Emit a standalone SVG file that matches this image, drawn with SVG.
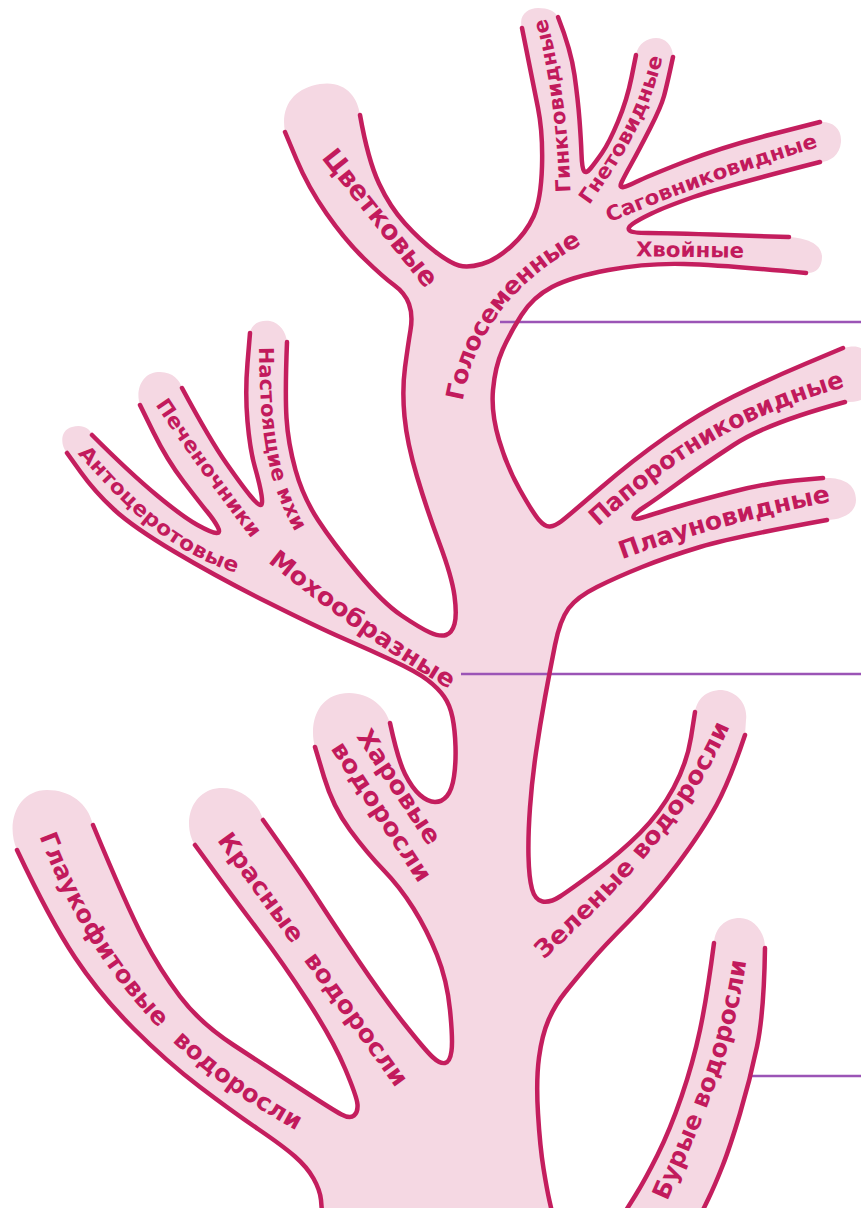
<svg xmlns="http://www.w3.org/2000/svg" width="861" height="1208" viewBox="0 0 861 1208">
<style>
.fill{fill:#f5d8e3;stroke:none}
.ol{fill:none;stroke:#c41e5e;stroke-width:4.5;stroke-linecap:round;stroke-linejoin:round}
.con{stroke:#9b54b6;stroke-width:2.5;fill:none}
.lbl{font-family:"DejaVu Sans","Open Sans",sans-serif;font-weight:700;fill:#c21a5c;text-anchor:middle;dominant-baseline:middle}
.big{font-size:24.5px}
.sm{font-size:20.5px}
.wide{word-spacing:10px}
</style>
<defs>
<path id="p1" d="M318,141 L441,296"/>
<path id="p2" d="M453,418 C462,340 500,275 595,230"/>
<path id="p3" d="M565,210 C564,140 555,60 535,3"/>
<path id="p4" d="M575,215 C610,165 645,120 660,40"/>
<path id="p5" d="M593,223 Q712,172 831,137"/>
<path id="p6" d="M620,250 L760,252"/>
<path id="p7" d="M582,532 C660,460 730,410 858,376"/>
<path id="p8" d="M605,558 Q720,515 845,492"/>
<path id="p9" d="M265,330 C265,425 270,487 310,543"/>
<path id="p10" d="M151,387 Q198,460 267,549"/>
<path id="p11" d="M70,437 C120,490 165,550 255,572"/>
<path id="p12" d="M258,545 Q360,630 468,692"/>
<path id="p13a" d="M353,719 L443,856"/>
<path id="p13b" d="M327,731 L434,894"/>
<path id="p14" d="M213,823 L411,1097"/>
<path id="p15" d="M40,818 C78,925 150,1050 315,1132"/>
<path id="p16" d="M530,963 C610,890 690,810 728,712"/>
<path id="p17" d="M655,1212 C690,1130 730,1050 741,945"/>
</defs>

<g id="tree-fill">
<path class="fill" d="M93,825 Q127,907 143.5,938.5 Q160,970 180,996.5 Q200,1023 233.5,1045 Q267,1067 300,1088.5 Q333,1110 341.5,1114.5 Q350,1119 354,1115.5 Q358,1112 357.5,1104.5 Q357,1097 345,1068.5 Q333,1040 308,1001.5 Q283,963 258,930 Q233,897 214,871 L195,845
C185,830 186,800 210,790 C235,782 258,800 263,820
Q300,872 316.5,897.5 Q333,923 358,960 Q383,997 404,1023.5 Q425,1050 432.5,1057 Q440,1064 445,1063 Q450,1062 451.5,1051 Q453,1040 450,1010 Q447,980 437,955 Q427,930 413.5,908.5 Q400,887 383.5,870 Q367,853 350,830 Q333,807 324,777 L315,747
C310,730 313,700 340,694 C365,689 385,705 390,723
Q398,760 405,774 Q412,788 420,795 Q428,802 435,802 Q442,802 447,796 Q452,790 454,776.5 Q456,763 455.5,746.5 Q455,730 452.5,717.5 Q450,705 444,696.5 Q438,688 427.5,680 Q417,672 393.5,661 Q370,650 343.5,638.5 Q317,627 267,602 Q217,577 175,552 Q133,527 114,509.5 Q95,492 81,472.5 L67,453
C60,445 60,430 72,427 C82,424 90,428 92,435
Q130,473 156.5,495 Q183,517 197.5,525 Q212,533 216.5,533 Q221,533 217.5,526.5 Q214,520 207,511.5 Q200,503 183.5,481.5 Q167,460 153.5,432.5 L140,405
C135,390 142,373 158,372 C172,371 180,380 182,388
Q210,440 226.5,463.5 Q243,487 250.5,496 Q258,505 260.5,505 Q263,505 261.5,495 Q260,485 255,467.5 Q250,450 247.5,421.5 Q245,393 247.5,363 L250,333
C252,322 262,320 270,321 C280,323 286,332 287,342
Q285,393 286.5,418 Q288,443 295.5,470 Q303,497 318,520 Q333,543 358,573 Q383,603 401.5,615.5 Q420,628 430,632.5 Q440,637 446,635 Q452,633 454.5,624 Q457,615 454.5,596 Q452,577 439.5,543.5 Q427,510 417,476.5 Q407,443 404.5,416.5 Q402,390 405,367.5 Q408,345 410.5,330 Q413,315 409,304 Q405,293 394,285 Q383,277 364,258.5 Q345,240 326.5,213.5 Q308,187 296.5,159.5 L285,132
C280,105 295,88 320,84 C345,80 358,97 360,115
Q368,160 379,183.5 Q390,207 405,223.5 Q420,240 435,251.5 Q450,263 459,265.5 Q468,268 482,264 Q496,260 511,246.5 Q526,233 533.5,216.5 Q541,200 542,166.5 Q543,133 538,108 Q533,83 527.5,55.5 L522,28
C518,15 528,8 538,8 C548,8 555,11 558,17
Q571,50 574.5,75 Q578,100 579.5,120 Q581,140 581.5,154 Q582,168 584,171 Q586,174 590.5,168.5 Q595,163 602,153 Q609,143 618,121.5 Q627,100 631.5,77.5 L636,55
C638,43 648,38 656,38 C665,38 673,45 673,57
Q667,85 664,96 Q661,107 650,128.5 Q639,150 631.5,163.5 Q624,177 621.5,182.5 Q619,188 623.5,187 Q628,186 637,181.5 Q646,177 684,162 Q722,147 771,134.5 L820,122
C832,121 842,128 841,142 C840,155 830,162 820,162
Q722,187 693.5,197 Q665,207 651.5,213.5 Q638,220 632.5,224 Q627,228 629.5,230.5 Q632,233 648.5,233 Q665,233 727,235 L789,237
C805,238 822,243 822,257 C822,268 815,274 806,273
Q722,265 684,264 Q646,263 608.5,270 Q571,277 552,287 Q533,297 521.5,315 Q510,333 502.5,350 Q495,367 493,390 Q491,413 499,440 Q507,467 520,490 Q533,513 539,520 Q545,527 550,526.5 Q555,526 561,521.5 Q567,517 600,488.5 Q633,460 666.5,436.5 Q700,413 733.5,396.5 Q767,380 805,364 L843,348
C855,345 866,345 866,360 L866,395 C864,401 855,402 845,402
Q767,423 733.5,445 Q700,467 677.5,483.5 Q655,500 643.5,507.5 Q632,515 633.5,517.5 Q635,520 642.5,517.5 Q650,515 675,507.5 Q700,500 733.5,491.5 Q767,483 795,480.5 L823,478
C840,477 856,482 856,500 C856,514 840,520 827,520
Q733,537 700,547 Q667,557 642,567 Q617,577 597,587 Q577,597 568.5,608.5 Q560,620 555,645 Q550,670 545,697.5 Q540,725 536,752.5 Q532,780 530,807.5 Q528,835 528.5,856.5 Q529,878 532,889 Q535,900 542.5,901.5 Q550,903 560,896.5 Q570,890 595,871.5 Q620,853 640,833 Q660,813 673.5,788 Q687,763 691,737.5 L695,712
C697,700 705,690 722,690 C738,692 748,705 746,720 L745,735
Q730,780 716.5,805 Q703,830 678,863.5 Q653,897 628,922 Q603,947 589,963.5 Q575,980 565,992.5 Q555,1005 548.5,1020 Q542,1035 539,1057.5 Q536,1080 538,1113.5 Q540,1147 543.5,1168.5 Q547,1190 549.5,1201 L552,1212
L322,1212 L321,1200 Q320,1190 313.5,1178.5 Q307,1167 295,1156.5 Q283,1146 258,1129 Q233,1112 200,1087 Q167,1062 133.5,1028.5 Q100,995 75,957.5 Q50,920 17,850
C5,822 18,790 47,790 C70,790 88,803 93,825 Z"/>
<path class="fill" d="M714,943 Q707,997 700,1030 Q693,1063 681.5,1096.5 Q670,1130 657.5,1155 Q645,1180 635,1196 L625,1212 L702,1212 L708.5,1198.5 Q715,1185 722.5,1166 Q730,1147 740,1113.5 Q750,1080 757,1046.5 Q764,1013 765,948 C765,930 752,918 740,918 C725,918 715,928 714,943 Z"/>
</g>

<g id="connectors">
<line class="con" x1="500" y1="322" x2="861" y2="322"/>
<line class="con" x1="461" y1="674" x2="861" y2="674"/>
<line class="con" x1="748" y1="1076" x2="861" y2="1076"/>
</g>

<g id="outlines">
<path class="ol" d="M17,850 Q50,920 75,957.5 Q100,995 133.5,1028.5 Q167,1062 200,1087 Q233,1112 258,1129 Q283,1146 295,1156.5 Q307,1167 313.5,1178.5 Q320,1190 321,1200 L322,1212"/>
<path class="ol" d="M93,825 Q127,907 143.5,938.5 Q160,970 180,996.5 Q200,1023 233.5,1045 Q267,1067 300,1088.5 Q333,1110 341.5,1114.5 Q350,1119 354,1115.5 Q358,1112 357.5,1104.5 Q357,1097 345,1068.5 Q333,1040 308,1001.5 Q283,963 258,930 Q233,897 214,871 L195,845"/>
<path class="ol" d="M263,820 Q300,872 316.5,897.5 Q333,923 358,960 Q383,997 404,1023.5 Q425,1050 432.5,1057 Q440,1064 445,1063 Q450,1062 451.5,1051 Q453,1040 450,1010 Q447,980 437,955 Q427,930 413.5,908.5 Q400,887 383.5,870 Q367,853 350,830 Q333,807 324,777 L315,747"/>
<path class="ol" d="M390,723 Q398,760 405,774 Q412,788 420,795 Q428,802 435,802 Q442,802 447,796 Q452,790 454,776.5 Q456,763 455.5,746.5 Q455,730 452.5,717.5 Q450,705 444,696.5 Q438,688 427.5,680 Q417,672 393.5,661 Q370,650 343.5,638.5 Q317,627 267,602 Q217,577 175,552 Q133,527 114,509.5 Q95,492 81,472.5 L67,453"/>
<path class="ol" d="M92,435 Q130,473 156.5,495 Q183,517 197.5,525 Q212,533 216.5,533 Q221,533 217.5,526.5 Q214,520 207,511.5 Q200,503 183.5,481.5 Q167,460 153.5,432.5 L140,405"/>
<path class="ol" d="M182,388 Q210,440 226.5,463.5 Q243,487 250.5,496 Q258,505 260.5,505 Q263,505 261.5,495 Q260,485 255,467.5 Q250,450 247.5,421.5 Q245,393 247.5,363 L250,333"/>
<path class="ol" d="M287,342 Q285,393 286.5,418 Q288,443 295.5,470 Q303,497 318,520 Q333,543 358,573 Q383,603 401.5,615.5 Q420,628 430,632.5 Q440,637 446,635 Q452,633 454.5,624 Q457,615 454.5,596 Q452,577 439.5,543.5 Q427,510 417,476.5 Q407,443 404.5,416.5 Q402,390 405,367.5 Q408,345 410.5,330 Q413,315 409,304 Q405,293 394,285 Q383,277 364,258.5 Q345,240 326.5,213.5 Q308,187 296.5,159.5 L285,132"/>
<path class="ol" d="M360,115 Q368,160 379,183.5 Q390,207 405,223.5 Q420,240 435,251.5 Q450,263 459,265.5 Q468,268 482,264 Q496,260 511,246.5 Q526,233 533.5,216.5 Q541,200 542,166.5 Q543,133 538,108 Q533,83 527.5,55.5 L522,28"/>
<path class="ol" d="M558,17 Q571,50 574.5,75 Q578,100 579.5,120 Q581,140 581.5,154 Q582,168 584,171 Q586,174 590.5,168.5 Q595,163 602,153 Q609,143 618,121.5 Q627,100 631.5,77.5 L636,55"/>
<path class="ol" d="M673,57 Q667,85 664,96 Q661,107 650,128.5 Q639,150 631.5,163.5 Q624,177 621.5,182.5 Q619,188 623.5,187 Q628,186 637,181.5 Q646,177 684,162 Q722,147 771,134.5 L820,122"/>
<path class="ol" d="M820,162 Q722,187 693.5,197 Q665,207 651.5,213.5 Q638,220 632.5,224 Q627,228 629.5,230.5 Q632,233 648.5,233 Q665,233 727,235 L789,237"/>
<path class="ol" d="M806,273 Q722,265 684,264 Q646,263 608.5,270 Q571,277 552,287 Q533,297 521.5,315 Q510,333 502.5,350 Q495,367 493,390 Q491,413 499,440 Q507,467 520,490 Q533,513 539,520 Q545,527 550,526.5 Q555,526 561,521.5 Q567,517 600,488.5 Q633,460 666.5,436.5 Q700,413 733.5,396.5 Q767,380 805,364 L843,348"/>
<path class="ol" d="M845,402 Q767,423 733.5,445 Q700,467 677.5,483.5 Q655,500 643.5,507.5 Q632,515 633.5,517.5 Q635,520 642.5,517.5 Q650,515 675,507.5 Q700,500 733.5,491.5 Q767,483 795,480.5 L823,478"/>
<path class="ol" d="M827,520 Q733,537 700,547 Q667,557 642,567 Q617,577 597,587 Q577,597 568.5,608.5 Q560,620 555,645 Q550,670 545,697.5 Q540,725 536,752.5 Q532,780 530,807.5 Q528,835 528.5,856.5 Q529,878 532,889 Q535,900 542.5,901.5 Q550,903 560,896.5 Q570,890 595,871.5 Q620,853 640,833 Q660,813 673.5,788 Q687,763 691,737.5 L695,712"/>
<path class="ol" d="M745,735 Q730,780 716.5,805 Q703,830 678,863.5 Q653,897 628,922 Q603,947 589,963.5 Q575,980 565,992.5 Q555,1005 548.5,1020 Q542,1035 539,1057.5 Q536,1080 538,1113.5 Q540,1147 543.5,1168.5 Q547,1190 549.5,1201 L552,1212"/>
<path class="ol" d="M714,943 Q707,997 700,1030 Q693,1063 681.5,1096.5 Q670,1130 657.5,1155 Q645,1180 635,1196 L625,1212"/>
<path class="ol" d="M765,948 Q764,1013 757,1046.5 Q750,1080 740,1113.5 Q730,1147 722.5,1166 Q715,1185 708.5,1198.5 L702,1212"/>
</g>

<g id="labels">
<g id="n-cvetkovye"><text class="lbl" font-size="27"><textPath href="#p1" startOffset="50%" textLength="168" lengthAdjust="spacingAndGlyphs">Цветковые</textPath></text></g>
<g id="n-golosemennye"><text class="lbl big"><textPath href="#p2" startOffset="50%" textLength="211" lengthAdjust="spacingAndGlyphs">Голосеменные</textPath></text></g>
<g id="n-ginkgo"><text class="lbl sm"><textPath href="#p3" startOffset="50%" textLength="175" lengthAdjust="spacingAndGlyphs">Гинкговидные</textPath></text></g>
<g id="n-gneto"><text class="lbl sm"><textPath href="#p4" startOffset="50%" textLength="164" lengthAdjust="spacingAndGlyphs">Гнетовидные</textPath></text></g>
<g id="n-sagovnik"><text class="lbl sm"><textPath href="#p5" startOffset="50%" textLength="223" lengthAdjust="spacingAndGlyphs">Саговниковидные</textPath></text></g>
<g id="n-hvoinye"><text class="lbl sm"><textPath href="#p6" startOffset="50%" textLength="108" lengthAdjust="spacingAndGlyphs">Хвойные</textPath></text></g>
<g id="n-paporotnik"><text class="lbl big"><textPath href="#p7" startOffset="50%" textLength="290" lengthAdjust="spacingAndGlyphs">Папоротниковидные</textPath></text></g>
<g id="n-plaun"><text class="lbl big"><textPath href="#p8" startOffset="50%" textLength="218" lengthAdjust="spacingAndGlyphs">Плауновидные</textPath></text></g>
<g id="n-mhi"><text class="lbl sm"><textPath href="#p9" startOffset="50%" textLength="188" lengthAdjust="spacingAndGlyphs">Настоящие мхи</textPath></text></g>
<g id="n-pechen"><text class="lbl sm"><textPath href="#p10" startOffset="50%" textLength="165" lengthAdjust="spacingAndGlyphs">Печеночники</textPath></text></g>
<g id="n-antocer"><text class="lbl sm"><textPath href="#p11" startOffset="50%" textLength="198" lengthAdjust="spacingAndGlyphs">Антоцеротовые</textPath></text></g>
<g id="n-mohoobr"><text class="lbl big"><textPath href="#p12" startOffset="50%" textLength="221" lengthAdjust="spacingAndGlyphs">Мохообразные</textPath></text></g>
<g id="n-harovye"><text class="lbl big"><textPath href="#p13a" startOffset="50%" textLength="132" lengthAdjust="spacingAndGlyphs">Харовые</textPath></text><text class="lbl big"><textPath href="#p13b" startOffset="50%" textLength="162" lengthAdjust="spacingAndGlyphs">водоросли</textPath></text></g>
<g id="n-krasnye"><text class="lbl big wide"><textPath href="#p14" startOffset="50%" textLength="306" lengthAdjust="spacingAndGlyphs">Красные водоросли</textPath></text></g>
<g id="n-glauko"><text class="lbl big wide"><textPath href="#p15" startOffset="50%" textLength="395" lengthAdjust="spacingAndGlyphs">Глаукофитовые водоросли</textPath></text></g>
<g id="n-zelenye"><text class="lbl big"><textPath href="#p16" startOffset="50%" textLength="298" lengthAdjust="spacingAndGlyphs">Зеленые водоросли</textPath></text></g>
<g id="n-burye"><text class="lbl big"><textPath href="#p17" startOffset="50%" textLength="252" lengthAdjust="spacingAndGlyphs">Бурые водоросли</textPath></text></g>
</g>
</svg>
